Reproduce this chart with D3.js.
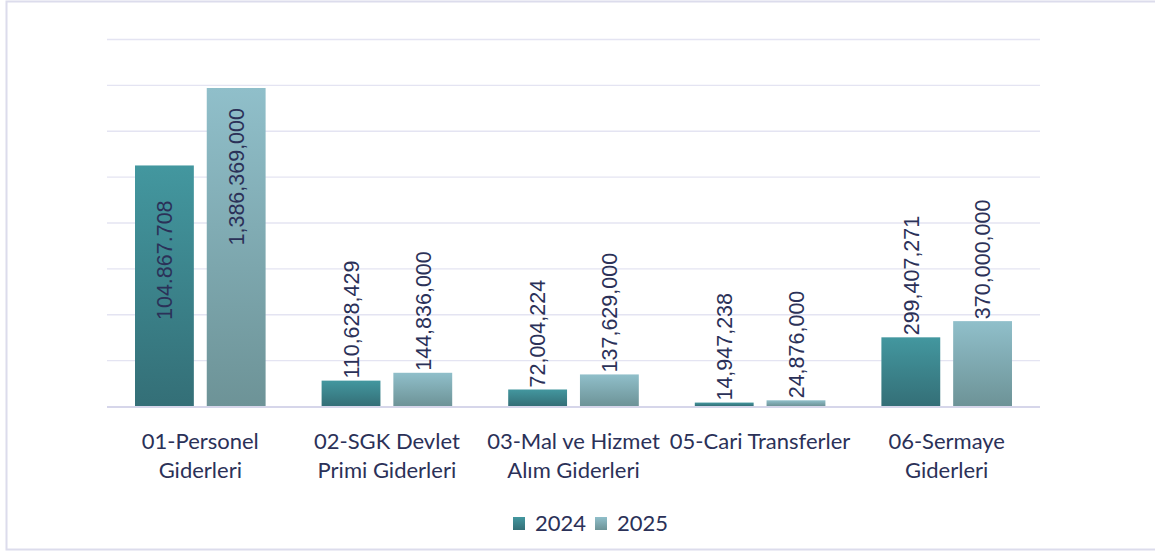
<!DOCTYPE html>
<html>
<head>
<meta charset="utf-8">
<script src="https://cdn.jsdelivr.net/npm/d3@7"></script>
<style>
  body { margin: 0; background: #fff; }
  svg { display: block; }
</style>
</head>
<body>
<svg id="chart" width="1155" height="552"></svg>
<script>
// chart data
var categories = ["01-Personel Giderleri", "02-SGK Devlet Primi Giderleri", "03-Mal ve Hizmet Alım Giderleri", "05-Cari Transferler", "06-Sermaye Giderleri"];
var categoryLines = [["01-Personel", "Giderleri"], ["02-SGK Devlet", "Primi Giderleri"], ["03-Mal ve Hizmet", "Alım Giderleri"], ["05-Cari Transferler"], ["06-Sermaye", "Giderleri"]];
var years = ["2024", "2025"];
var values2024 = [1048677080, 110628429, 72004224, 14947238, 299407271];
var values2025 = [1386369000, 144836000, 137629000, 24876000, 370000000];
var labels2024 = ["104.867.708", "110,628,429", "72,004,224", "14,947,238", "299,407,271"];
var labels2025 = ["1,386,369,000", "144,836,000", "137,629,000", "24,876,000", "370,000,000"];
var gridTicks = d3.range(0, 1600000001, 200000000);

var width = 1155;
var height = 552;
var margin = { top: 39, right: 115, bottom: 146, left: 107 };
var textColor = '#2b3158';

var svg = d3.select("#chart");

// outer frame
svg.append("rect")
  .attr("x", 6.5).attr("y", 1.5)
  .attr("width", 1160).attr("height", 548)
  .attr("fill", "none")
  .attr("stroke", "#dcdcec")
  .attr("stroke-width", 2);

var defs = svg.append("defs");
var gradColors = [["#43979f", "#346f77"], ["#90bfca", "#6d9397"]];
gradColors.forEach((c, i) => {
  var g = defs.append("linearGradient")
    .attr("id", "grad" + i)
    .attr("x1", 0).attr("y1", 0).attr("x2", 0).attr("y2", 1);
  g.append("stop").attr("offset", "0%").attr("stop-color", c[0]);
  g.append("stop").attr("offset", "100%").attr("stop-color", c[1]);
});

var x0 = d3.scaleBand()
  .domain(categories)
  .range([margin.left, width - margin.right]);

var x1 = d3.scaleBand()
  .domain(years)
  .range([28, x0.bandwidth() - 28])
  .paddingInner(0.18);

var y = d3.scaleLinear()
  .domain([0, 1600000000])
  .range([height - margin.bottom, margin.top]);

// gridlines
svg.append("g")
  .selectAll("line")
  .data(gridTicks.slice(1))
  .enter().append("line")
  .attr("x1", margin.left).attr("x2", width - margin.right)
  .attr("y1", d => y(d) + 0.5).attr("y2", d => y(d) + 0.5)
  .attr("stroke", "#e4e4f2")
  .attr("stroke-width", 1.3);

var rows = categories.map((c, i) => ({
  cat: c,
  bars: [
    { year: "2024", value: values2024[i], label: labels2024[i], g: 0 },
    { year: "2025", value: values2025[i], label: labels2025[i], g: 1 }
  ]
}));

var groups = svg.append("g")
  .selectAll("g")
  .data(rows)
  .enter().append("g")
  .attr("transform", d => `translate(${x0(d.cat)},0)`);

groups.selectAll("rect")
  .data(d => d.bars)
  .enter().append("rect")
  .attr("x", d => x1(d.year))
  .attr("width", x1.bandwidth())
  .attr("y", d => y(d.value))
  .attr("height", d => y(0) - y(d.value))
  .attr("fill", d => `url(#grad${d.g})`);

// axis baseline
svg.append("line")
  .attr("x1", margin.left).attr("x2", width - margin.right)
  .attr("y1", y(0) + 1).attr("y2", y(0) + 1)
  .attr("stroke", "#d6d6ea")
  .attr("stroke-width", 2);

// value labels (rotated)
var half = y.domain()[1] / 2;
groups.selectAll("text.value")
  .data(d => d.bars)
  .enter().append("text")
  .attr("class", "value")
  .each(function(d) {
    var cx = x1(d.year) + x1.bandwidth() / 2;
    var top = y(d.value);
    var t = d3.select(this)
      .attr("font-family", "'Liberation Sans', Arial, sans-serif")
      .attr("font-size", 21.5)
      .attr("fill", textColor)
      .attr("dy", "0.36em")
      .text(d.label);
    if (d.value > half) {
      // tall bars: label inside, near the top
      var pad = d.g === 0 ? 35 : 20;
      t.attr("text-anchor", "end")
        .attr("transform", `translate(${cx},${top + pad}) rotate(-90)`);
    } else {
      t.attr("text-anchor", "start")
        .attr("transform", `translate(${cx},${top - 2}) rotate(-90)`);
    }
  });

// category labels
var catText = svg.append("g")
  .selectAll("text")
  .data(categories)
  .enter().append("text")
  .attr("x", d => x0(d) + x0.bandwidth() / 2)
  .attr("y", 449)
  .attr("text-anchor", "middle")
  .attr("font-family", "Lato, sans-serif")
  .attr("font-size", 22)
  .attr("fill", textColor);

catText.each(function(d, i) {
  var el = d3.select(this);
  categoryLines[i].forEach((line, j) => {
    el.append("tspan")
      .attr("x", x0(d) + x0.bandwidth() / 2)
      .attr("dy", j === 0 ? 0 : 29)
      .text(line);
  });
});

// legend
var legend = svg.append("g").attr("transform", "translate(513,517)");
years.forEach((yr, i) => {
  var lx = i * 82;
  legend.append("rect")
    .attr("x", lx).attr("y", 0)
    .attr("width", 12).attr("height", 13)
    .attr("fill", `url(#grad${i})`);
  legend.append("text")
    .attr("x", lx + 22).attr("y", 14)
    .attr("font-family", "Lato, sans-serif")
    .attr("font-size", 22)
    .attr("fill", textColor)
    .text(yr);
});
</script>
</body>
</html>
